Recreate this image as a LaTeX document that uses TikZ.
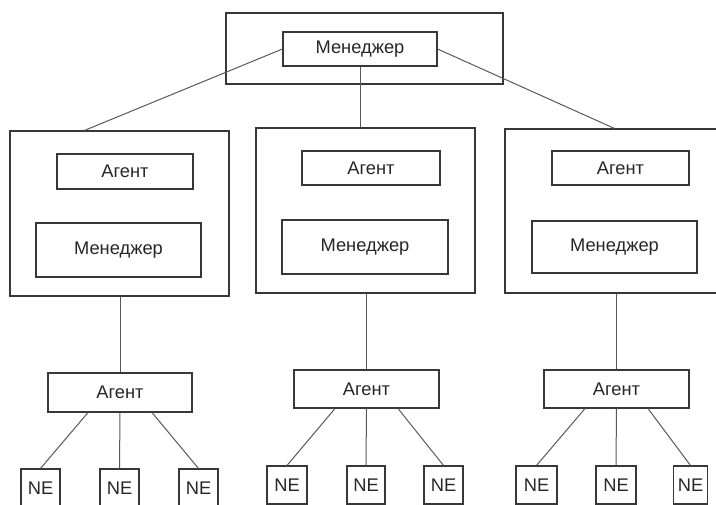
\documentclass[tikz,border=0pt]{standalone}
\usepackage{fontspec}
\setmainfont{Liberation Sans}
\begin{document}
\begin{tikzpicture}[x=1pt,y=-1pt,
  blk/.style={draw=black!78, line width=1.1pt, inner sep=0pt, rectangle,
    text=black!85, font=\fontsize{18.3}{22}\selectfont},
  frame/.style={blk, minimum width=219pt, minimum height=165pt},
  agentbox/.style={blk, minimum width=137pt, minimum height=34pt},
  mgrbox/.style={blk, minimum width=165pt, minimum height=54pt},
  leafagent/.style={blk, minimum width=145pt, minimum height=38pt},
  nebox/.style={blk, minimum width=39pt, minimum height=38pt},
  link/.style={draw=black!65, line width=1pt}]
\useasboundingbox (0,0) rectangle (716,505);
\clip (0,0) rectangle (716,505);

% top level manager
\node[blk, minimum width=277pt, minimum height=71pt] (top) at (364.5,48.5) {};
\node[blk, minimum width=154pt, minimum height=34pt] (tm) at (360,49) {Менеджер};

% intermediate agent/manager units
\node[frame] (L) at (119.5,213.5) {};
\node[agentbox, minimum width=136pt, minimum height=35pt] (La) at (125,171.5) {Агент};
\node[mgrbox] (Lm) at (118.5,250) {Менеджер};

\node[frame] (M) at (365.5,210.5) {};
\node[agentbox, minimum width=138pt] (Ma) at (371,168) {Агент};
\node[mgrbox, minimum width=166pt] (Mm) at (365,247) {Менеджер};

\node[frame, minimum height=164pt] (R) at (614.5,211) {};
\node[agentbox] (Ra) at (620.5,168) {Агент};
\node[mgrbox, minimum height=52pt] (Rm) at (614.5,247) {Менеджер};

% leaf agents
\node[leafagent, minimum width=144pt, minimum height=39pt] (LA) at (120,392.5) {Агент};
\node[leafagent] (MA) at (366.5,389) {Агент};
\node[leafagent] (RA) at (616.5,389) {Агент};

% network elements
\node[nebox] (ln1) at (40.5,488) {NE};
\node[nebox] (ln2) at (119.5,488) {NE};
\node[nebox] (ln3) at (198.5,488) {NE};
\node[nebox, minimum width=40pt] (mn1) at (287,485) {NE};
\node[nebox, minimum width=38pt] (mn2) at (366,485) {NE};
\node[nebox] (mn3) at (443.5,485) {NE};
\node[nebox, minimum width=41pt] (rn1) at (536.5,485) {NE};
\node[nebox, minimum width=40pt] (rn2) at (616,485) {NE};
\node[nebox, minimum width=34pt] (rn3) at (690.5,485) {NE};

% links from the top manager
\draw[link] (tm.west) -- ([xshift=75pt]L.north west);
\draw[link] (tm.east) -- ([xshift=110pt]R.north west);
\draw[link] (tm.south) -- (tm.south |- M.north);

% links down to the leaf agents
\draw[link] (LA.north |- L.south) -- (LA.north);
\draw[link] (MA.north |- M.south) -- (MA.north);
\draw[link] (RA.north |- R.south) -- (RA.north);

% links from leaf agents to network elements
\draw[link] ([xshift=-32pt]LA.south) -- (ln1.north);
\draw[link] (LA.south) -- (ln2.north);
\draw[link] ([xshift=32pt]LA.south) -- (ln3.north);
\draw[link] ([xshift=-31.5pt]MA.south) -- (mn1.north);
\draw[link] (MA.south) -- (mn2.north);
\draw[link] ([xshift=31.5pt]MA.south) -- (mn3.north);
\draw[link] ([xshift=-31.5pt]RA.south) -- (rn1.north);
\draw[link] (RA.south) -- (rn2.north);
\draw[link] ([xshift=31.5pt]RA.south) -- (rn3.north);
\end{tikzpicture}
\end{document}
